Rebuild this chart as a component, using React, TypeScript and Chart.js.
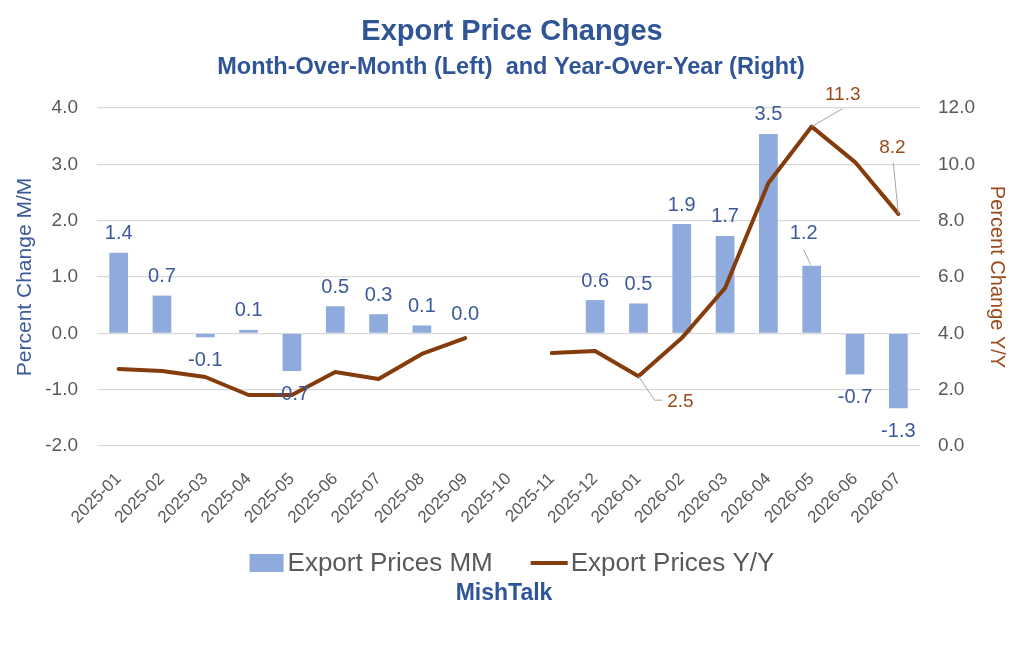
import React, { useRef, useEffect } from "react";
import { Chart, registerables } from "chart.js";

Chart.register(...registerables);

const months = [
  "2025-01", "2025-02", "2025-03", "2025-04", "2025-05", "2025-06", "2025-07",
  "2025-08", "2025-09", "2025-10", "2025-11", "2025-12", "2026-01", "2026-02",
  "2026-03", "2026-04", "2026-05", "2026-06", "2026-07",
];
const mmValues = [
  1.43, 0.67, -0.07, 0.06, -0.67, 0.48, 0.34, 0.14, 0.0, null, null,
  0.59, 0.53, 1.94, 1.73, 3.54, 1.2, -0.73, -1.33,
];
const yoyValues = [
  2.73, 2.66, 2.45, 1.81, 1.81, 2.63, 2.38, 3.27, 3.83, null, 3.3,
  3.37, 2.48, 3.83, 5.61, 9.34, 11.34, 10.08, 8.24,
];
const leftTicks = [-2, -1, 0, 1, 2, 3, 4];
const rightTicks = [0, 2, 4, 6, 8, 10, 12];

const FONT = '"Liberation Sans", Arial, sans-serif';
const BLUE = "#2F5597";
const BAR = "#8FAADC";
const BROWN = "#843C0C";
const LABEL_BROWN = "#9A4A1C";
const GRAY = "#595959";
const LEADER = "#A6A6A6";

const decor = {
  id: "decor",
  afterDraw(chart: any) {
    const ctx = chart.ctx;
    ctx.save();
    // titles
    ctx.fillStyle = BLUE;
    ctx.textAlign = "center";
    ctx.textBaseline = "alphabetic";
    ctx.font = `bold 29px ${FONT}`;
    ctx.fillText("Export Price Changes", 512, 40);
    ctx.font = `bold 23.5px ${FONT}`;
    ctx.fillText("Month-Over-Month (Left)  and Year-Over-Year (Right)", 511, 74);

    // bar labels
    const bars = chart.getDatasetMeta(1);
    ctx.font = `20px ${FONT}`;
    ctx.fillStyle = "#3C5A9A";
    ctx.textBaseline = "middle";
    bars.data.forEach((el: any, i: number) => {
      const v = mmValues[i];
      if (v === null) return;
      const txt = v.toFixed(1);
      if (i === 16) {
        ctx.fillText(txt, el.x - 8, el.y - 32);
        ctx.strokeStyle = LEADER;
        ctx.lineWidth = 1;
        ctx.beginPath();
        ctx.moveTo(el.x - 8, el.y - 16);
        ctx.lineTo(el.x - 1, el.y - 1);
        ctx.stroke();
      } else if (v >= 0) {
        ctx.fillText(txt, el.x, el.y - 19);
      } else {
        ctx.fillText(txt, el.x, el.y + 23);
      }
    });

    // line labels
    const pts = chart.getDatasetMeta(0).data;
    ctx.font = `19px ${FONT}`;
    ctx.fillStyle = LABEL_BROWN;
    ctx.strokeStyle = LEADER;
    ctx.lineWidth = 1;
    const p12 = pts[12];
    ctx.beginPath();
    ctx.moveTo(p12.x, p12.y);
    ctx.lineTo(p12.x + 16, p12.y + 24);
    ctx.lineTo(p12.x + 24, p12.y + 24);
    ctx.stroke();
    ctx.fillText((yoyValues[12] as number).toFixed(1), p12.x + 42, p12.y + 26);
    const p16 = pts[16];
    ctx.beginPath();
    ctx.moveTo(p16.x, p16.y);
    ctx.lineTo(p16.x + 31, p16.y - 18);
    ctx.stroke();
    ctx.fillText((yoyValues[16] as number).toFixed(1), p16.x + 31, p16.y - 32);
    const p18 = pts[18];
    ctx.beginPath();
    ctx.moveTo(p18.x, p18.y);
    ctx.lineTo(p18.x - 5, p18.y - 51);
    ctx.stroke();
    ctx.fillText((yoyValues[18] as number).toFixed(1), p18.x - 6, p18.y - 66);

    // legend
    const ds = chart.data.datasets;
    ctx.font = `26px ${FONT}`;
    const t1 = ds[1].label;
    const t2 = ds[0].label;
    const w1 = ctx.measureText(t1).width;
    const w2 = ctx.measureText(t2).width;
    const total = 34 + 4 + w1 + 38 + 37 + 3 + w2;
    let x = 512 - total / 2;
    const ly = 563;
    ctx.fillStyle = ds[1].backgroundColor;
    ctx.fillRect(x, ly - 9, 34, 18);
    x += 38;
    ctx.fillStyle = GRAY;
    ctx.textAlign = "left";
    ctx.fillText(t1, x, ly + 1);
    x += w1 + 38;
    ctx.strokeStyle = ds[0].borderColor;
    ctx.lineWidth = 4;
    ctx.beginPath();
    ctx.moveTo(x, ly);
    ctx.lineTo(x + 37, ly);
    ctx.stroke();
    x += 40;
    ctx.fillText(t2, x, ly + 1);

    // source
    ctx.textAlign = "center";
    ctx.fillStyle = BLUE;
    ctx.font = `bold 23px ${FONT}`;
    ctx.fillText("MishTalk", 504, 594);
    ctx.restore();
  },
};

const App: React.FC = () => {
  const chartRef = useRef<HTMLCanvasElement>(null);

  useEffect(() => {
    if (!chartRef.current) return;
    const ctx = chartRef.current.getContext("2d");
    if (!ctx) return;
    const chart = new Chart(ctx, {
      type: "bar",
      data: {
        labels: months,
        datasets: [
          {
            type: "line",
            label: "Export Prices Y/Y",
            data: yoyValues,
            yAxisID: "y1",
            borderColor: BROWN,
            backgroundColor: BROWN,
            borderWidth: 4,
            pointRadius: 0,
            tension: 0,
            spanGaps: false,
            borderCapStyle: "round",
            borderJoinStyle: "round",
            order: 1,
          },
          {
            type: "bar",
            label: "Export Prices MM",
            data: mmValues,
            yAxisID: "y",
            backgroundColor: BAR,
            categoryPercentage: 0.9,
            barPercentage: 0.48,
            order: 2,
          },
        ] as any,
      },
      options: {
        animation: false,
        responsive: false,
        layout: { padding: { top: 108, bottom: 114, left: 0, right: 0 } },
        plugins: {
          legend: { display: false },
          title: { display: false },
          tooltip: { enabled: false },
        },
        scales: {
          x: {
            grid: { display: false },
            border: { display: false },
            ticks: {
              autoSkip: false,
              minRotation: 45,
              maxRotation: 45,
              padding: 15,
              color: GRAY,
              font: { family: FONT, size: 17 },
            },
            afterFit: (s: any) => {
              s.height = 90;
            },
          },
          y: {
            position: "left",
            min: -2,
            max: 4,
            afterBuildTicks: (s: any) => {
              s.ticks = leftTicks.map((v) => ({ value: v }));
            },
            grid: { color: "#D9D9D9", lineWidth: 1.2, drawTicks: false },
            border: { display: false },
            ticks: {
              padding: 19,
              color: GRAY,
              font: { family: FONT, size: 19 },
              callback: (v: any) => Number(v).toFixed(1),
            },
            title: {
              display: true,
              text: "Percent Change M/M",
              color: "#3C5A9A",
              font: { family: FONT, size: 21 },
              padding: { top: 13, bottom: 0 },
            },
            afterFit: (s: any) => {
              s.width = 97;
            },
          },
          y1: {
            position: "right",
            min: 0,
            max: 12,
            afterBuildTicks: (s: any) => {
              s.ticks = rightTicks.map((v) => ({ value: v }));
            },
            grid: { display: false },
            border: { display: false },
            ticks: {
              padding: 10,
              color: GRAY,
              font: { family: FONT, size: 19 },
              callback: (v: any) => Number(v).toFixed(1),
            },
            title: {
              display: true,
              text: "Percent Change Y/Y",
              color: LABEL_BROWN,
              font: { family: FONT, size: 20 },
              padding: { top: 15, bottom: 0 },
            },
            afterFit: (s: any) => {
              s.width = 104;
            },
          },
        },
      } as any,
      plugins: [decor],
    });
    return () => {
      chart.destroy();
    };
  }, []);

  return (
    <div style={{ position: "absolute", left: 0, top: 0, width: 1024, height: 650, background: "#fff" }}>
      <canvas ref={chartRef} width={1024} height={650} />
    </div>
  );
};

export default App;
